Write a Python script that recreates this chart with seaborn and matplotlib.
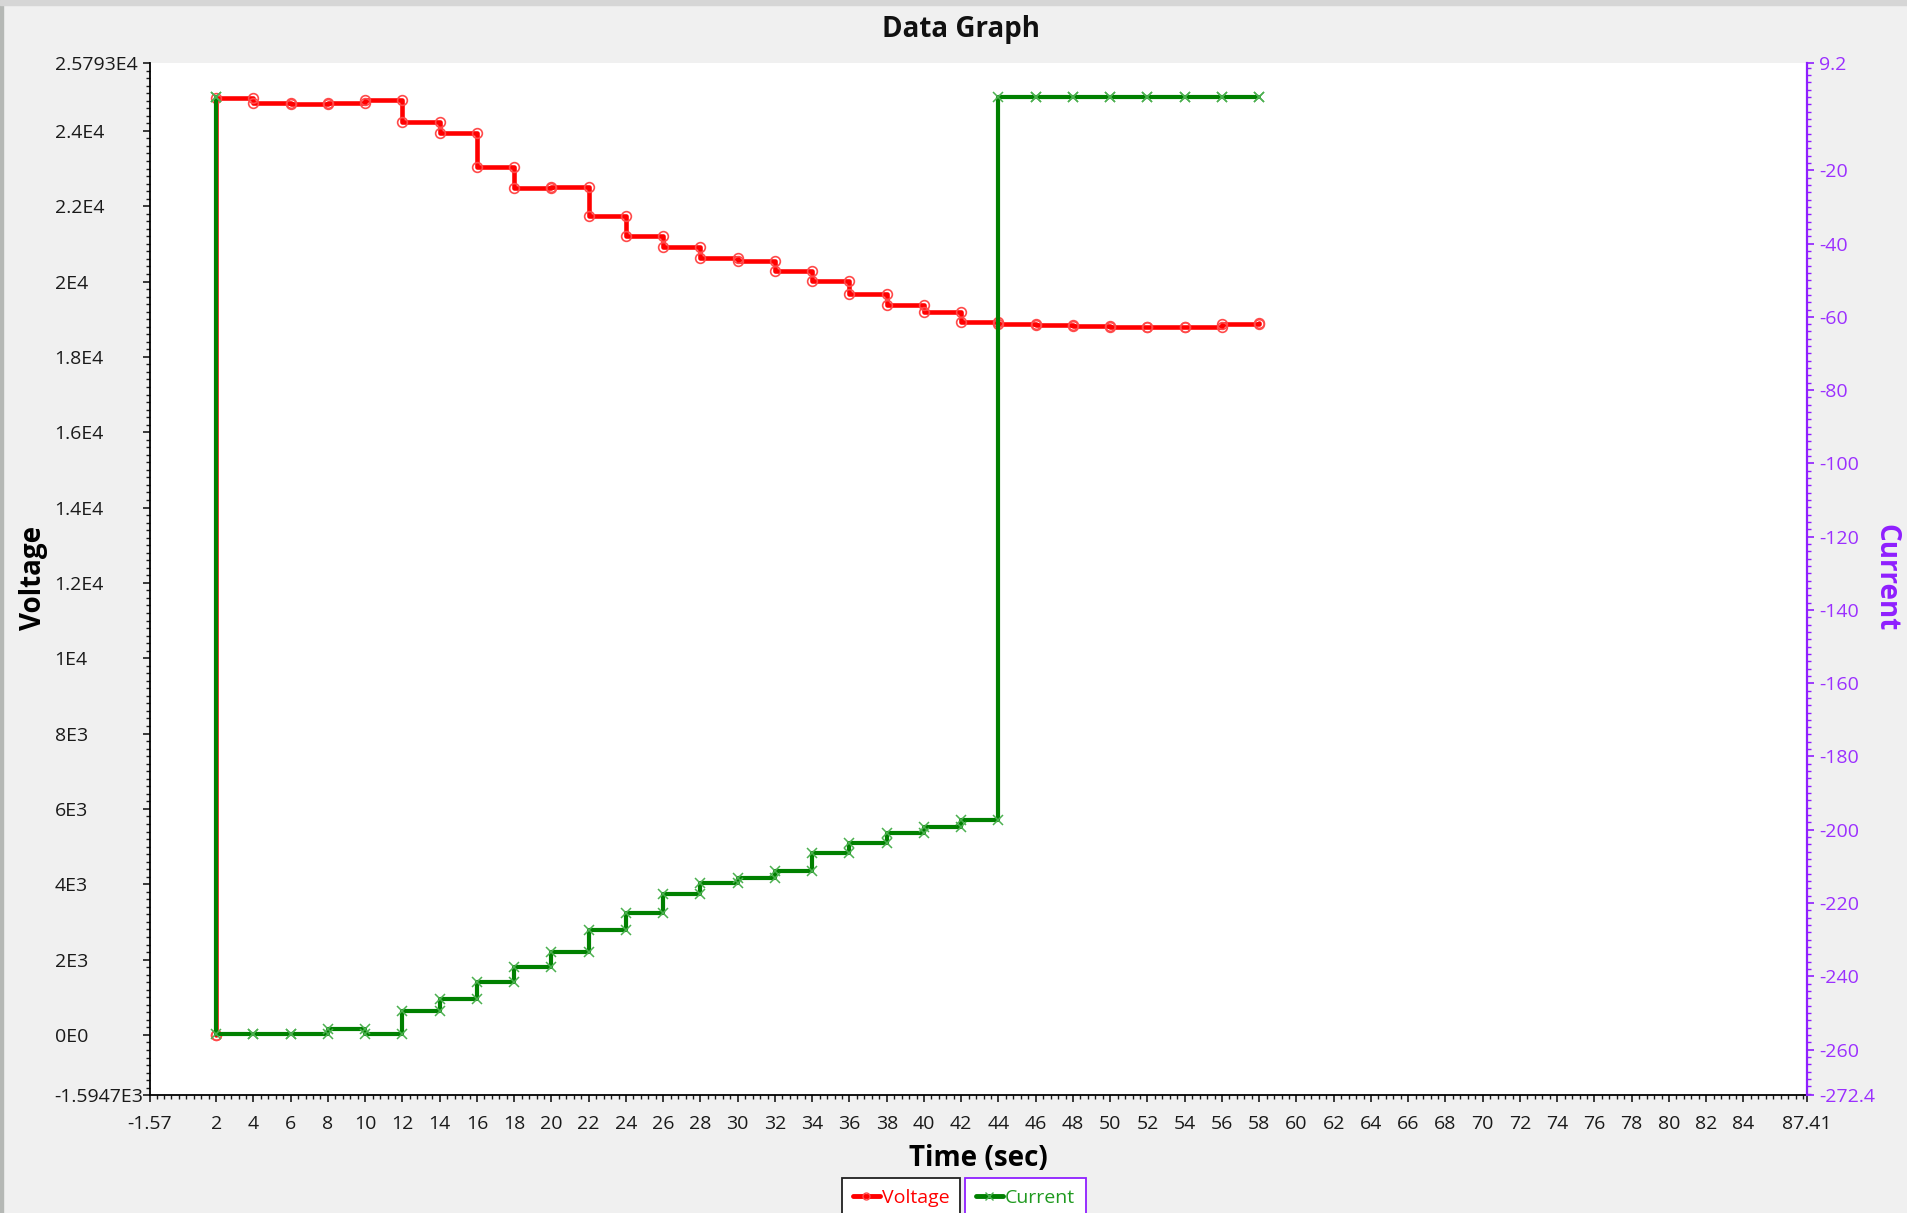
import matplotlib
matplotlib.use("Agg")
import matplotlib.pyplot as plt
import pandas as pd
import seaborn as sns
from matplotlib.ticker import FixedLocator, MultipleLocator
from matplotlib.lines import Line2D
from matplotlib.patches import Rectangle

# Sample times (sec). The first sample is logged twice: at rest, then once the pulse starts.
time_s = [2, 2, 4, 6, 8, 10, 12, 14, 16, 18, 20, 22, 24, 26, 28, 30,
          32, 34, 36, 38, 40, 42, 44, 46, 48, 50, 52, 54, 56, 58]
voltage = [0, 24885, 24726, 24722, 24752, 24832, 24235, 23943, 23053, 22483,
           22501, 21747, 21217, 20909, 20617, 20545, 20279, 20022, 19669, 19369,
           19183, 18918, 18873, 18838, 18811, 18801, 18785, 18801, 18865, 18891]
current = [0, -255.7, -255.7, -255.7, -254.4, -255.7, -249.4, -246.3, -241.6, -237.4,
           -233.5, -227.5, -222.6, -217.6, -214.5, -213.2, -211.2, -206.3, -203.5, -201.0,
           -199.2, -197.3, 0, 0, 0, 0, 0, 0, 0, 0]

# Axis ranges and tick labels
x_range = (-1.57, 87.41)
v_range = (-1594.7, 25793)
i_range = (-272.4, 9.2)
x_ticks = [-1.57] + list(range(2, 85, 2)) + [87.41]
x_tick_labels = ["-1.57"] + [str(t) for t in range(2, 85, 2)] + ["87.41"]
v_ticks = [-1594.7, 0, 2000, 4000, 6000, 8000, 10000, 12000, 14000, 16000,
           18000, 20000, 22000, 24000, 25793]
v_tick_labels = ["-1.5947E3", "0E0", "2E3", "4E3", "6E3", "8E3", "1E4", "1.2E4",
                 "1.4E4", "1.6E4", "1.8E4", "2E4", "2.2E4", "2.4E4", "2.5793E4"]
i_ticks = [-272.4, -260, -240, -220, -200, -180, -160, -140, -120, -100,
           -80, -60, -40, -20, 9.2]
i_tick_labels = ["-272.4", "-260", "-240", "-220", "-200", "-180", "-160", "-140",
                 "-120", "-100", "-80", "-60", "-40", "-20", "9.2"]

PURPLE = "#8f1fff"
PURPLE_TXT = "#9b30ff"
RED = "#ff0000"
GREEN = "#008000"


def stair_corners(x, y):
    """Corner points of a hold-last-value staircase (a marker sits on every corner)."""
    xs, ys = [x[0]], [y[0]]
    for k in range(1, len(x)):
        xs += [x[k], x[k]]
        ys += [y[k - 1], y[k]]
    return pd.DataFrame({"t": xs, "val": ys})


sns.set_style("white")
plt.rcParams["font.family"] = ["Open Sans", "DejaVu Sans"]

W, H = 1908, 1213
fig = plt.figure(figsize=(W / 100, H / 100), dpi=100, facecolor="#f0f0f0")

# window frame
fig.patches.append(Rectangle((0, 0), 3 / W, 1, transform=fig.transFigure,
                             color="#b5b8b5", zorder=0))
fig.patches.append(Rectangle((0, 1 - 5 / H), 1, 5 / H, transform=fig.transFigure,
                             color="#d6d6d6", zorder=0))

left, right, top, bottom = 149.7, 1807, 63.3, 1095
ax = fig.add_axes([left / W, 1 - bottom / H, (right - left) / W, (bottom - top) / H])
ax.set_facecolor("white")

v_df = stair_corners(time_s, voltage)
sns.lineplot(data=v_df, x="t", y="val", estimator=None, sort=False, ax=ax,
             color=RED, linewidth=3.3, marker="o", markersize=7,
             markerfacecolor="none", markeredgecolor="#ff4a4a", markeredgewidth=1.2,
             legend=False)
ax.set_xlim(*x_range)
ax.set_ylim(*v_range)

ax2 = ax.twinx()
i_df = stair_corners(time_s, current)
sns.lineplot(data=i_df, x="t", y="val", estimator=None, sort=False, ax=ax2,
             color=GREEN, linewidth=3.0, marker="x", markersize=7.5,
             markeredgecolor="#4cb050", markeredgewidth=1.1, legend=False)
ax2.set_ylim(*i_range)

# restyle the markers explicitly
ax.lines[0].set_markerfacecolor("none")
ax.lines[0].set_markeredgecolor("#ff4a4a")
ax2.lines[0].set_markeredgecolor("#4cb050")

# spines
for s in ["top", "right"]:
    ax.spines[s].set_visible(False)
for s in ["left", "bottom"]:
    ax.spines[s].set_color("black")
    ax.spines[s].set_linewidth(1.3)
for s in ["top", "left", "bottom"]:
    ax2.spines[s].set_visible(False)
ax2.spines["right"].set_color(PURPLE)
ax2.spines["right"].set_linewidth(1.6)

# x axis ticks
ax.xaxis.set_major_locator(FixedLocator(x_ticks))
ax.set_xticklabels(x_tick_labels)
ax.xaxis.set_minor_locator(MultipleLocator(0.4))
ax.tick_params(axis="x", which="major", direction="out", length=5, width=1.2,
               pad=9.5, labelsize=14, colors="#1a1a1a", bottom=True)
ax.tick_params(axis="x", which="minor", direction="out", length=3, width=1.0,
               bottom=True, color="#1a1a1a")

# left axis ticks
ax.yaxis.set_major_locator(FixedLocator(v_ticks))
ax.set_yticklabels(v_tick_labels)
ax.yaxis.set_minor_locator(MultipleLocator(200))
ax.tick_params(axis="y", which="major", direction="out", length=5, width=1.2,
               pad=63.5, labelsize=14, colors="#1a1a1a", left=True)
ax.tick_params(axis="y", which="minor", direction="out", length=3, width=1.0,
               left=True, color="#1a1a1a")
for lbl in ax.get_yticklabels():
    lbl.set_horizontalalignment("left")

# right axis ticks
ax2.yaxis.set_major_locator(FixedLocator(i_ticks))
ax2.set_yticklabels(i_tick_labels)
ax2.yaxis.set_minor_locator(MultipleLocator(2))
ax2.tick_params(axis="y", which="major", direction="out", length=5, width=1.2,
                pad=3.5, labelsize=14, color=PURPLE, labelcolor=PURPLE_TXT, right=True)
ax2.tick_params(axis="y", which="minor", direction="out", length=3, width=1.0,
                right=True, color=PURPLE)

ax.set_xlabel("")
ax.set_ylabel("")
ax2.set_ylabel("")
ax.grid(False)
ax2.grid(False)

# titles and axis labels
fig.text(961 / W, 1 - 29 / H, "Data Graph", ha="center", va="center",
         fontsize=20, fontweight="bold", color="#111111")
fig.text((left + right) / 2 / W, 1 - 1158 / H, "Time (sec)", ha="center", va="center",
         fontsize=20, fontweight="bold", color="black")
fig.text(34 / W, 1 - 578 / H, "Voltage", ha="center", va="center", rotation=90,
         fontsize=20, fontweight="bold", color="black")
fig.text(1886 / W, 1 - 578 / H, "Current", ha="center", va="center", rotation=-90,
         fontsize=20, fontweight="bold", color=PURPLE)

# legend boxes, one per series
h_v = Line2D([], [], color=RED, linewidth=3.5, marker="o", markersize=5,
             markerfacecolor="none", markeredgecolor="#ff4a4a", markeredgewidth=1.0)
h_i = Line2D([], [], color=GREEN, linewidth=3.5, marker="x", markersize=6,
             markeredgecolor="#4cb050", markeredgewidth=1.0)
for handle, name, edge, txt_color, x0 in [
    (h_v, "Voltage", "#202020", RED, 842),
    (h_i, "Current", PURPLE, "#1f9a1f", 965),
]:
    leg = fig.legend(handles=[handle], labels=[name], loc="upper left",
                     bbox_to_anchor=(x0 / W, 1 - 1178 / H), frameon=True,
                     fancybox=False, edgecolor=edge, facecolor="white", framealpha=1,
                     fontsize=14, handlelength=1.4, handletextpad=0.1,
                     borderpad=0.55, borderaxespad=0)
    leg.get_frame().set_linewidth(1.3)
    leg.get_texts()[0].set_color(txt_color)

fig.savefig("out.png", dpi=100, facecolor=fig.get_facecolor())
